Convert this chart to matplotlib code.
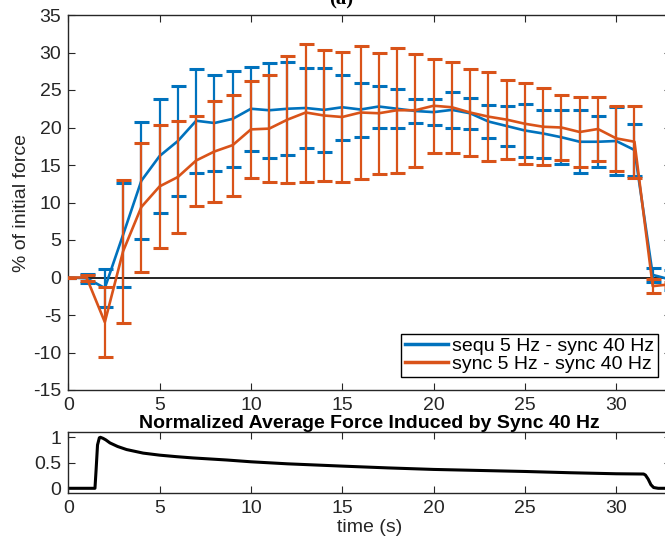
import numpy as np
import matplotlib
matplotlib.use("Agg")
import matplotlib.pyplot as plt

plt.rcParams['font.family'] = ['Liberation Sans', 'DejaVu Sans']
plt.rcParams['axes.unicode_minus'] = False

# time points (s)
t = np.arange(0, 34)

# sequ 5 Hz - sync 40 Hz
sequ_mean = [0, -0.1, -1.4, 5.7, 12.9, 16.2, 18.2, 20.9, 20.6, 21.15,
             22.5, 22.3, 22.5, 22.6, 22.35, 22.7, 22.4, 22.8, 22.5, 22.2,
             22.05, 22.35, 21.9, 20.8, 20.2, 19.6, 19.2, 18.7, 18.1, 18.1,
             18.2, 17.0, 0.35, -0.3]
sequ_err = [0, 0.6, 2.5, 6.9, 7.8, 7.6, 7.3, 6.9, 6.4, 6.45,
            5.6, 6.3, 6.2, 5.4, 5.55, 4.3, 3.6, 2.8, 2.6, 1.6,
            1.75, 2.45, 2.1, 2.2, 2.7, 3.5, 3.2, 3.6, 4.2, 3.4,
            4.5, 3.5, 0.95, 1.3]

# sync 5 Hz - sync 40 Hz
sync_mean = [0, 0, -5.95, 3.5, 9.4, 12.15, 13.4, 15.6, 16.8, 17.65,
             19.75, 19.85, 21.05, 22.0, 21.6, 21.4, 22.0, 21.9, 22.3, 22.3,
             22.9, 22.7, 22.0, 21.45, 21.05, 20.5, 20.1, 20.0, 19.4, 19.8,
             18.55, 18.1, -1.15, -0.9]
sync_err = [0, 0.4, 4.65, 9.5, 8.6, 8.15, 7.5, 6.0, 6.7, 6.75,
            6.45, 7.15, 8.45, 9.2, 8.7, 8.7, 8.9, 8.1, 8.3, 7.5,
            6.3, 6.1, 5.8, 5.95, 5.25, 5.4, 5.1, 4.3, 4.7, 4.3,
            4.35, 4.8, 0.95, 0.3]

# normalized average force induced by sync 40 Hz
force_t = [0, 1.46, 1.52, 1.6, 1.7, 1.76, 1.9, 2.05, 2.28, 2.7, 3.19, 4.1,
           5.0, 5.93, 6.84, 7.76, 8.67, 10, 12, 15, 17.5, 20, 22.5, 25,
           27.5, 30, 31.5, 31.6, 31.75, 31.9, 32.05, 32.3, 33]
force_v = [0, 0, 0.35, 0.85, 0.99, 1.0, 0.98, 0.95, 0.89, 0.82, 0.76, 0.69,
           0.65, 0.62, 0.595, 0.575, 0.555, 0.52, 0.48, 0.435, 0.40, 0.37, 0.35, 0.33,
           0.305, 0.285, 0.28, 0.26, 0.18, 0.07, 0.015, 0, 0]

blue = '#0072BD'
orange = '#D95319'
axc = '#262626'

fig = plt.figure(figsize=(6.65, 5.41), dpi=100)
W, H = 665.0, 541.0
left = 68.3 / W
width = (671 - 68.3) / W
ax1 = fig.add_axes([left, (H - 390) / H, width, 375 / H])
ax2 = fig.add_axes([left, (H - 493.4) / H, width, 61.2 / H])

ax1.axhline(0, color='black', lw=1.2, zorder=1)
eb1 = ax1.errorbar(t, sequ_mean, yerr=sequ_err, color=blue, lw=1.9,
                   elinewidth=1.6, capsize=5.4, capthick=2.2, zorder=2)
eb2 = ax1.errorbar(t, sync_mean, yerr=sync_err, color=orange, lw=1.9,
                   elinewidth=1.6, capsize=5.4, capthick=2.2, zorder=3)
ax1.set_xlim(0, 33)
ax1.set_ylim(-15, 35)
ax1.set_xticks(range(0, 35, 5))
ax1.set_yticks(range(-15, 40, 5))
ax1.set_ylabel('% of initial force', fontsize=14, color=axc, labelpad=2)

leg = ax1.legend([eb1[0], eb2[0]],
                 ['sequ 5 Hz - sync 40 Hz', 'sync 5 Hz - sync 40 Hz'],
                 loc='lower right', bbox_to_anchor=(0.9785, 0.0355),
                 borderaxespad=0, fontsize=14, frameon=True, fancybox=False,
                 framealpha=1, edgecolor='black', borderpad=0.2,
                 labelspacing=0.0, handletextpad=0.2, handlelength=2.2)
leg.get_frame().set_linewidth(1.0)
for h in leg.legend_handles:
    h.set_linewidth(2.5)

ax2.plot(force_t, force_v, color='black', lw=2.2)
ax2.set_xlim(0, 33)
ax2.set_ylim(-0.1, 1.1)
ax2.set_xticks(range(0, 35, 5))
ax2.set_yticks([0, 0.5, 1])
ax2.set_yticklabels(['0', '0.5', '1'])
ax2.set_xlabel('time (s)', fontsize=14, color=axc, labelpad=1)
ax2.set_title('Normalized Average Force Induced by Sync 40 Hz',
              fontsize=14, fontweight='bold', pad=3)

for ax in (ax1, ax2):
    ax.tick_params(direction='in', length=5, width=0.8, top=True, right=True,
                   colors=axc, labelsize=14, pad=5)
    for s in ax.spines.values():
        s.set_color(axc)
        s.set_linewidth(1.0)

# panel label, cut at the top edge as in the original figure
fig.text(341 / W, 1 - 4 / H, '(a)', ha='center', va='baseline',
         fontsize=15, fontweight='bold', family='Liberation Serif')

fig.savefig('out.png', dpi=100)
